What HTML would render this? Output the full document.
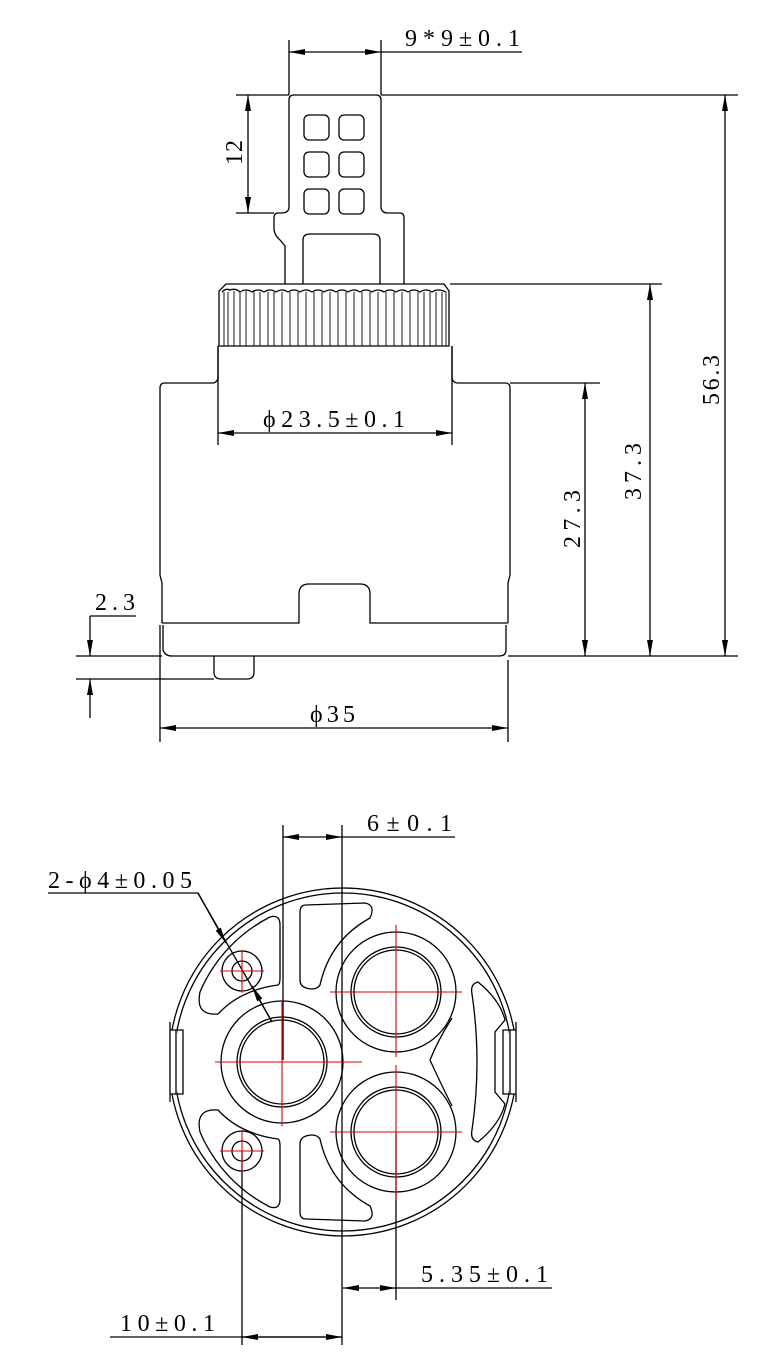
<!DOCTYPE html>
<html><head><meta charset="utf-8"><style>
html,body{margin:0;padding:0;background:#fff;}
svg{display:block;}
text{font-family:"Liberation Serif","Noto Serif CJK SC",serif;font-size:24px;fill:#000;}
</style></head><body>
<svg width="783" height="1367" viewBox="0 0 783 1367" xmlns="http://www.w3.org/2000/svg">
<defs>
<marker id="a" viewBox="0 0 16 6" refX="16" refY="3" markerWidth="16" markerHeight="6" orient="auto-start-reverse" markerUnits="userSpaceOnUse"><path d="M0 0 L16 3 L0 6 Z" fill="#000"/></marker>
</defs>
<g fill="none" stroke="#000" stroke-width="1.3">
<path d="M289 100 Q289 95 294 95 L376 95 Q381 95 381 100 L381 208 Q382 213 388 213 L400 213 Q404 213 404 218 L404 284"/>
<path d="M289 100 L289 208 Q288 213 282 213 L278 213 Q274 213 274 218 L274 230 Q275 236 280 240 L285 246 L285 284"/>
<path d="M303 284 L303 240 Q303 234 310 234 L373 234 Q380 234 380 240 L380 284"/>
<rect x="304" y="115" width="25" height="25" rx="5"/><rect x="339" y="115" width="25" height="25" rx="5"/>
<rect x="304" y="152" width="25" height="25" rx="5"/><rect x="339" y="152" width="25" height="25" rx="5"/>
<rect x="304" y="189" width="25" height="25" rx="5"/><rect x="339" y="189" width="25" height="25" rx="5"/>
<path d="M226 284 L444 284 L449 291 L449 346 L219 346 L219 291 Z"/>
<path d="M222 292 Q226 288 230 290 Q236 288 240 292 Q246 288 252 292 Q258 288 264 292 Q270 288 276 292 Q282 288 288 292 Q294 288 300 292 Q306 288 312 292 Q318 288 324 292 Q330 288 336 292 Q342 288 348 292 Q354 288 360 292 Q366 288 372 292 Q378 288 384 292 Q390 288 396 292 Q402 288 408 292 Q414 288 420 292 Q426 288 432 292 Q438 288 446 292"/>
<path d="M224 292V346 M228 292V346 M234 291V346 M240 292V346 M246 291V346 M254 292V346 M260 292V346 M268 292V346 M274 292V346 M282 292V346 M290 292V346 M298 292V346 M306 292V346 M314 292V346 M322 292V346 M330 292V346 M338 292V346 M346 292V346 M354 292V346 M362 292V346 M370 292V346 M378 292V346 M386 292V346 M394 292V346 M402 292V346 M410 292V346 M418 292V346 M424 292V346 M430 292V346 M436 292V346 M442 292V346 M446 292V346" stroke-width="0.9"/>
<path d="M218 346 L218 378 Q217 383 212 383 L165 383 Q160 383 160 388 L160 575 L162 583 L162 623"/>
<path d="M452 346 L452 378 Q453 383 458 383 L505 383 Q510 383 510 388 L510 575 L508 583 L508 623"/>
<path d="M218 383 L218 346 M452 383 L452 346" />
<path d="M162 623 L299 623 L299 594 Q299 584 309 584 L360 584 Q370 584 370 594 L370 623 L508 623"/>
<path d="M163 625 L163 650 Q165 656 172 656 L499 656 Q506 656 506 650 L506 625"/>
<path d="M214 656 L214 672 Q214 679 221 679 L247 679 Q254 679 254 672 L254 656"/>
<path d="M289 40 L289 95 M381 40 L381 95"/>
<path d="M289 52 L381 52" marker-start="url(#a)" marker-end="url(#a)"/>
<path d="M381 52 L522 52"/>
<path d="M236 95 L289 95 M236 213 L274 213"/>
<path d="M248 95 L248 213" marker-start="url(#a)" marker-end="url(#a)"/>
<path d="M381 95 L738 95 M450 284 L662 284 M510 383 L600 383 M508 656 L738 656"/>
<path d="M725 95 L725 656" marker-start="url(#a)" marker-end="url(#a)"/>
<path d="M650 284 L650 656" marker-start="url(#a)" marker-end="url(#a)"/>
<path d="M585 383 L585 656" marker-start="url(#a)" marker-end="url(#a)"/>
<path d="M218 383 L218 445 M452 383 L452 445"/>
<path d="M218 433 L452 433" marker-start="url(#a)" marker-end="url(#a)"/>
<path d="M76 656 L162 656 M76 679 L214 679"/>
<path d="M90 616 L90 656" marker-end="url(#a)"/>
<path d="M90 718 L90 679" marker-end="url(#a)"/>
<path d="M90 616 L136 616"/>
<path d="M160 625 L160 742 M508 660 L508 742"/>
<path d="M160 728 L508 728" marker-start="url(#a)" marker-end="url(#a)"/>
<circle cx="343" cy="1062" r="174"/>
<circle cx="343" cy="1062" r="169"/>
<circle cx="282" cy="1062" r="61"/>
<circle cx="282" cy="1062" r="45"/>
<circle cx="282" cy="1062" r="42"/>
<circle cx="396" cy="992" r="60"/>
<circle cx="396" cy="992" r="45"/>
<circle cx="396" cy="992" r="42"/>
<circle cx="396" cy="1132" r="60"/>
<circle cx="396" cy="1132" r="45"/>
<circle cx="396" cy="1132" r="42"/>
<circle cx="242" cy="971" r="20"/><circle cx="242" cy="971" r="10"/>
<circle cx="242" cy="1151" r="20"/><circle cx="242" cy="1151" r="10"/>
<path d="M280 925 Q280 914 270 917 A150 150 0 0 0 200 992 Q195 1016 218 1014 Q240 990 278 985 Q280 984 280 978 Z"/>
<path d="M280 1199 Q280 1210 270 1207 A150 150 0 0 1 200 1132 Q195 1108 218 1110 Q240 1134 278 1139 Q280 1140 280 1146 Z"/>
<path d="M306 905 L365 903 Q376 905 370 918 Q330 940 320 985 Q316 991 306 988 Q300 986 300 980 L300 912 Q300 905 306 905 Z"/>
<path d="M306 1219 L365 1221 Q376 1219 370 1206 Q330 1184 320 1139 Q316 1133 306 1136 Q300 1138 300 1144 L300 1212 Q300 1219 306 1219 Z"/>
<path d="M478 982 Q500 1000 505 1020 L495 1032 L495 1092 L505 1104 Q500 1124 478 1142 Q470 1140 472 1130 Q482 1062 472 994 Q470 984 478 982 Z"/>
<path d="M452 1018 Q438 1040 430 1060 Q440 1082 452 1106"/>
</g>
<rect x="167" y="1030" width="10" height="64" fill="#fff"/>
<rect x="509" y="1030" width="10" height="64" fill="#fff"/>
<g fill="none" stroke="#000" stroke-width="1.3">
<path d="M170 1022 L170 1102 M176 1030 L176 1094 M170 1030 L183 1030 L183 1094 L170 1094"/>
<path d="M516 1022 L516 1102 M510 1030 L510 1094 M516 1030 L503 1030 L503 1094 L516 1094"/>
<path d="M283 825 L283 1060 M342 825 L342 1345"/>
<path d="M283 837 L342 837" marker-start="url(#a)" marker-end="url(#a)"/>
<path d="M342 837 L455 837"/>
<path d="M396 1132 L396 1300"/>
<path d="M343 1288 L396 1288" marker-start="url(#a)" marker-end="url(#a)"/>
<path d="M396 1288 L552 1288"/>
<path d="M242 1151 L242 1345"/>
<path d="M110 1337 L342 1337"/>
<path d="M242 1337 L342 1337" marker-start="url(#a)" marker-end="url(#a)"/>
<path d="M48 893 L198 893 L272 1022" />
<path d="M198 893 L226 943" marker-end="url(#a)"/>
<path d="M272 1022 L252 986" marker-end="url(#a)"/>
</g>
<g stroke="#e00000" stroke-width="1.1" fill="none">
<path d="M215 1062 L362 1062 M282 1002 L282 1126"/>
<path d="M330 992 L462 992 M396 925 L396 1057"/>
<path d="M330 1132 L462 1132 M396 1065 L396 1200"/>
<path d="M220 971 L264 971 M242 950 L242 993"/>
<path d="M220 1151 L264 1151 M242 1130 L242 1172"/>
</g>
<text x="405" y="46" textLength="115" lengthAdjust="spacing">9*9±0.1</text>
<text x="0" y="0" transform="translate(242,165) rotate(-90)" textLength="25" lengthAdjust="spacing">12</text>
<text x="0" y="0" transform="translate(719,405) rotate(-90)" textLength="50" lengthAdjust="spacing">56.3</text>
<text x="0" y="0" transform="translate(641,500) rotate(-90)" textLength="57" lengthAdjust="spacing">37.3</text>
<text x="0" y="0" transform="translate(580,548) rotate(-90)" textLength="58" lengthAdjust="spacing">27.3</text>
<text x="263" y="427" textLength="142" lengthAdjust="spacing">ϕ23.5±0.1</text>
<text x="95" y="610" textLength="40" lengthAdjust="spacing">2.3</text>
<text x="310" y="722" textLength="45" lengthAdjust="spacing">ϕ35</text>
<text x="367" y="831" textLength="85" lengthAdjust="spacing">6±0.1</text>
<text x="48" y="888" textLength="144" lengthAdjust="spacing">2-ϕ4±0.05</text>
<text x="421" y="1282" textLength="127" lengthAdjust="spacing">5.35±0.1</text>
<text x="120" y="1331" textLength="95" lengthAdjust="spacing">10±0.1</text>
</svg>
</body></html>
